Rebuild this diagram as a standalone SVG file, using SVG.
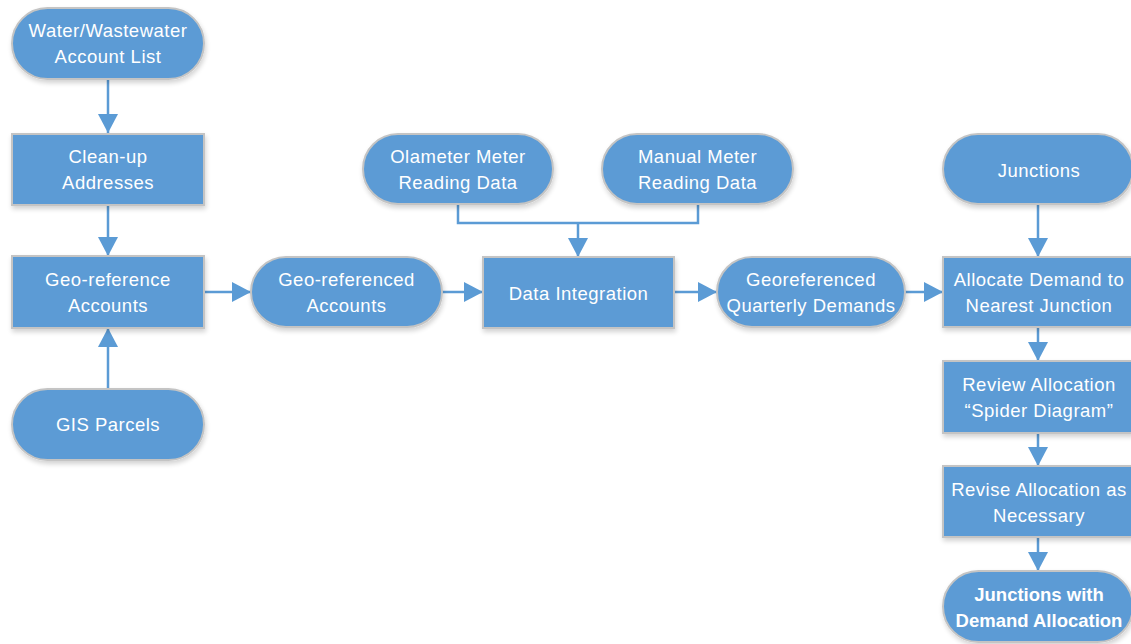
<svg xmlns="http://www.w3.org/2000/svg" width="1131" height="644" viewBox="0 0 1131 644">
  <style>
    .shape { fill: #5B9BD5; stroke: #C4C4C4; stroke-width: 2; filter: url(#shadow); }
    .label { fill: #FFFFFF; font-family: "Liberation Sans", Arial, sans-serif; font-size: 18.5px; letter-spacing: 0.5px; text-anchor: middle; }
    .bold { font-weight: bold; letter-spacing: 0; }
    .wire { fill: none; stroke: #5B9BD5; stroke-width: 2.5; }
  </style>
  <defs>
    <filter id="shadow" x="-10%" y="-20%" width="125%" height="150%">
      <feGaussianBlur in="SourceAlpha" stdDeviation="2.5"/>
      <feOffset dx="1" dy="3" result="b"/>
      <feComponentTransfer><feFuncA type="linear" slope="0.18"/></feComponentTransfer>
      <feMerge><feMergeNode/><feMergeNode in="SourceGraphic"/></feMerge>
    </filter>
    <marker id="arrow" markerUnits="userSpaceOnUse" markerWidth="19" markerHeight="20" refX="19" refY="10" orient="auto">
      <path d="M0,0 L19,10 L0,20 z" fill="#5B9BD5"/>
    </marker>
  </defs>

  <rect width="1131" height="644" fill="#FFFFFF"/>

  <!-- connectors -->
  <g id="connectors">
    <line class="wire" x1="108" y1="80" x2="108" y2="133" marker-end="url(#arrow)"/>
    <line class="wire" x1="108" y1="206" x2="108" y2="256" marker-end="url(#arrow)"/>
    <line class="wire" x1="108" y1="388" x2="108" y2="328" marker-end="url(#arrow)"/>
    <line class="wire" x1="204" y1="292" x2="251" y2="292" marker-end="url(#arrow)"/>
    <line class="wire" x1="442" y1="292" x2="483" y2="292" marker-end="url(#arrow)"/>
    <polyline class="wire" points="458,205 458,223 698,223 698,205"/>
    <line class="wire" x1="578" y1="223" x2="578" y2="257" marker-end="url(#arrow)"/>
    <line class="wire" x1="674" y1="292" x2="717" y2="292" marker-end="url(#arrow)"/>
    <line class="wire" x1="905" y1="292" x2="943" y2="292" marker-end="url(#arrow)"/>
    <line class="wire" x1="1038" y1="205" x2="1038" y2="257" marker-end="url(#arrow)"/>
    <line class="wire" x1="1038" y1="328" x2="1038" y2="361" marker-end="url(#arrow)"/>
    <line class="wire" x1="1038" y1="434" x2="1038" y2="466" marker-end="url(#arrow)"/>
    <line class="wire" x1="1038" y1="538" x2="1038" y2="571" marker-end="url(#arrow)"/>
  </g>

  <!-- left column -->
  <g id="account-list">
    <rect class="shape" x="12" y="8" width="192" height="71" rx="35.5"/>
    <text class="label" x="108" y="37">Water/Wastewater</text>
    <text class="label" x="108" y="63">Account List</text>
  </g>
  <g id="clean-up">
    <rect class="shape" x="12" y="134" width="192" height="71"/>
    <text class="label" x="108" y="163">Clean-up</text>
    <text class="label" x="108" y="189">Addresses</text>
  </g>
  <g id="geo-reference">
    <rect class="shape" x="12" y="256" width="192" height="72"/>
    <text class="label" x="108" y="286">Geo-reference</text>
    <text class="label" x="108" y="312">Accounts</text>
  </g>
  <g id="gis-parcels">
    <rect class="shape" x="12" y="389" width="192" height="71" rx="35.5"/>
    <text class="label" x="108" y="431">GIS Parcels</text>
  </g>

  <!-- middle row -->
  <g id="geo-referenced-accounts">
    <rect class="shape" x="251" y="257" width="191" height="70" rx="35"/>
    <text class="label" x="346.5" y="286">Geo-referenced</text>
    <text class="label" x="346.5" y="312">Accounts</text>
  </g>
  <g id="olameter">
    <rect class="shape" x="363" y="134" width="190" height="70" rx="35"/>
    <text class="label" x="458" y="163">Olameter Meter</text>
    <text class="label" x="458" y="189">Reading Data</text>
  </g>
  <g id="manual-meter">
    <rect class="shape" x="602" y="134" width="191" height="70" rx="35"/>
    <text class="label" x="697.5" y="163">Manual Meter</text>
    <text class="label" x="697.5" y="189">Reading Data</text>
  </g>
  <g id="data-integration">
    <rect class="shape" x="483" y="257" width="191" height="71"/>
    <text class="label" x="578.5" y="300">Data Integration</text>
  </g>
  <g id="quarterly-demands">
    <rect class="shape" x="717" y="257" width="188" height="70" rx="35"/>
    <text class="label" x="811" y="286">Georeferenced</text>
    <text class="label" x="811" y="312">Quarterly Demands</text>
  </g>

  <!-- right column -->
  <g id="junctions">
    <rect class="shape" x="943" y="134" width="190" height="70" rx="35"/>
    <text class="label" x="1039" y="177">Junctions</text>
  </g>
  <g id="allocate">
    <rect class="shape" x="943" y="257" width="190" height="70"/>
    <text class="label" x="1039" y="286">Allocate Demand to</text>
    <text class="label" x="1039" y="312">Nearest Junction</text>
  </g>
  <g id="review">
    <rect class="shape" x="943" y="361" width="190" height="72"/>
    <text class="label" x="1039" y="391">Review Allocation</text>
    <text class="label" x="1039" y="417">“Spider Diagram”</text>
  </g>
  <g id="revise">
    <rect class="shape" x="943" y="466" width="190" height="71"/>
    <text class="label" x="1039" y="496">Revise Allocation as</text>
    <text class="label" x="1039" y="522">Necessary</text>
  </g>
  <g id="junctions-with-demand">
    <rect class="shape" x="943" y="571" width="190" height="71" rx="35.5"/>
    <text class="label bold" x="1039" y="601">Junctions with</text>
    <text class="label bold" x="1039" y="627">Demand Allocation</text>
  </g>
</svg>
